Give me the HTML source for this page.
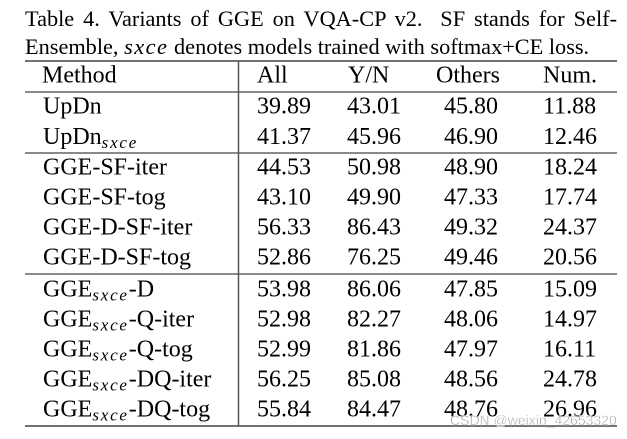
<!DOCTYPE html>
<html><head><meta charset="utf-8"><style>
html,body{margin:0;padding:0;background:#fff;}
body{width:627px;height:439px;position:relative;overflow:hidden;font-family:"Liberation Serif",serif;color:#000;}
.cap{position:absolute;left:25px;width:592px;font-size:22.3px;line-height:28px;white-space:nowrap;}
.j{text-align:justify;text-align-last:justify;white-space:normal;}
svg{position:absolute;left:0;top:0;}
</style></head><body>
<div class="cap j" style="top:5px;">Table 4. Variants of GGE on VQA-CP v2.&nbsp; SF stands for Self-</div>
<div class="cap" style="top:33px;">Ensemble, <i style="letter-spacing:1.5px">sxce</i> denotes models trained with softmax+CE loss.</div>
<svg width="627" height="439" viewBox="0 0 627 439" xmlns="http://www.w3.org/2000/svg">
<g stroke="#444">
<line x1="25" y1="61" x2="617" y2="61" stroke-width="1.5"/>
<line x1="25" y1="92" x2="617" y2="92" stroke-width="1.2"/>
<line x1="25" y1="153" x2="617" y2="153" stroke-width="1.2"/>
<line x1="25" y1="274" x2="617" y2="274" stroke-width="1.2"/>
<line x1="25" y1="426" x2="617" y2="426" stroke-width="1.5"/>
<line x1="238.5" y1="61" x2="238.5" y2="426" stroke-width="1.5" stroke="#555"/>
</g>
<g font-family="'Liberation Serif', serif" font-size="24" fill="#000">
<text x="42" y="82.5">Method</text>
<text x="257" y="82.5">All</text>
<text x="348" y="82.5">Y/N</text>
<text x="436" y="82.5">Others</text>
<text x="543" y="82.5">Num.</text>

<text x="43" y="113.3">UpDn</text>
<text x="43" y="144">UpDn<tspan font-style="italic" font-size="17" dy="4" letter-spacing="1.8">sxce</tspan></text>

<text x="43" y="174.5">GGE-SF-iter</text>
<text x="43" y="204.5">GGE-SF-tog</text>
<text x="43" y="234.5">GGE-D-SF-iter</text>
<text x="43" y="264.5">GGE-D-SF-tog</text>

<text x="43" y="296.7">GGE<tspan font-style="italic" font-size="17" dy="4" letter-spacing="1.8">sxce</tspan><tspan dy="-4">-D</tspan></text>
<text x="43" y="326.7">GGE<tspan font-style="italic" font-size="17" dy="4" letter-spacing="1.8">sxce</tspan><tspan dy="-4">-Q-iter</tspan></text>
<text x="43" y="356.7">GGE<tspan font-style="italic" font-size="17" dy="4" letter-spacing="1.8">sxce</tspan><tspan dy="-4">-Q-tog</tspan></text>
<text x="43" y="386.7">GGE<tspan font-style="italic" font-size="17" dy="4" letter-spacing="1.8">sxce</tspan><tspan dy="-4">-DQ-iter</tspan></text>
<text x="43" y="416.7">GGE<tspan font-style="italic" font-size="17" dy="4" letter-spacing="1.8">sxce</tspan><tspan dy="-4">-DQ-tog</tspan></text>

<g>
<text x="257" y="113.3">39.89</text><text x="347" y="113.3">43.01</text><text x="444" y="113.3">45.80</text><text x="543" y="113.3">11.88</text>
<text x="257" y="144">41.37</text><text x="347" y="144">45.96</text><text x="444" y="144">46.90</text><text x="543" y="144">12.46</text>
<text x="257" y="174.5">44.53</text><text x="347" y="174.5">50.98</text><text x="444" y="174.5">48.90</text><text x="543" y="174.5">18.24</text>
<text x="257" y="204.5">43.10</text><text x="347" y="204.5">49.90</text><text x="444" y="204.5">47.33</text><text x="543" y="204.5">17.74</text>
<text x="257" y="234.5">56.33</text><text x="347" y="234.5">86.43</text><text x="444" y="234.5">49.32</text><text x="543" y="234.5">24.37</text>
<text x="257" y="264.5">52.86</text><text x="347" y="264.5">76.25</text><text x="444" y="264.5">49.46</text><text x="543" y="264.5">20.56</text>
<text x="257" y="296.7">53.98</text><text x="347" y="296.7">86.06</text><text x="444" y="296.7">47.85</text><text x="543" y="296.7">15.09</text>
<text x="257" y="326.7">52.98</text><text x="347" y="326.7">82.27</text><text x="444" y="326.7">48.06</text><text x="543" y="326.7">14.97</text>
<text x="257" y="356.7">52.99</text><text x="347" y="356.7">81.86</text><text x="444" y="356.7">47.97</text><text x="543" y="356.7">16.11</text>
<text x="257" y="386.7">56.25</text><text x="347" y="386.7">85.08</text><text x="444" y="386.7">48.56</text><text x="543" y="386.7">24.78</text>
<text x="257" y="416.7">55.84</text><text x="347" y="416.7">84.47</text><text x="444" y="416.7">48.76</text><text x="543" y="416.7">26.96</text>
</g>
</g>
<text x="450" y="425" font-family="'Liberation Sans', sans-serif" font-size="14" fill="#9a9a9a" stroke="#fff" stroke-width="0.4" opacity="0.9">CSDN @weixin_42653320</text>
</svg>
</body></html>
